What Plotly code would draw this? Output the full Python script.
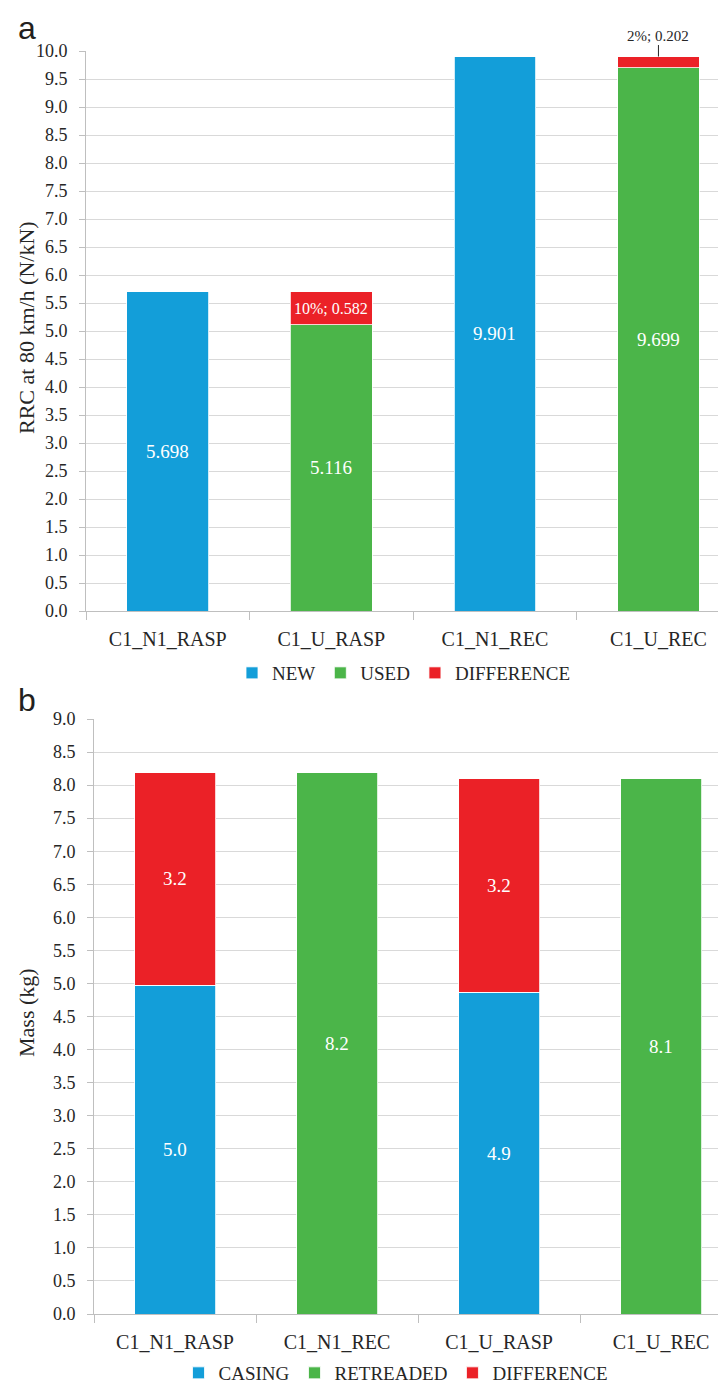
import plotly.graph_objects as go

W, H = 726, 1382

# ---- Panel a data ----
cats_a = ["C1_N1_RASP", "C1_U_RASP", "C1_N1_REC", "C1_U_REC"]
new_a = [5.698, None, 9.901, None]
used_a = [None, 5.116, None, 9.699]
diff_a = [None, 0.582, None, 0.202]
diff_pct_a = [None, "10%", None, "2%"]

# ---- Panel b data ----
cats_b = ["C1_N1_RASP", "C1_N1_REC", "C1_U_RASP", "C1_U_REC"]
casing_b = [4.97, None, 4.87, None]
retread_b = [None, 8.19, None, 8.10]
diff_b = [3.22, None, 3.23, None]

BLUE = "#139ED9"
GREEN = "#4BB549"
RED = "#EB2127"
SERIF = "Liberation Serif"
SANS = "Liberation Sans"
GRID = "#D9D9D9"
AX = "#BFBFBF"
TXT = "#262626"

fig = go.Figure()

def add_bar(x, y, name, color, xa, ya, legend):
    fig.add_trace(go.Bar(x=x, y=y, name=name, marker=dict(color=color, line=dict(width=0.8, color="white")),
                         xaxis=xa, yaxis=ya, legend=legend, showlegend=True))

add_bar(cats_a, new_a, "NEW", BLUE, "x", "y", "legend")
add_bar(cats_a, used_a, "USED", GREEN, "x", "y", "legend")
add_bar(cats_a, diff_a, "DIFFERENCE", RED, "x", "y", "legend")

add_bar(cats_b, casing_b, "CASING", BLUE, "x2", "y2", "legend2")
add_bar(cats_b, retread_b, "RETREADED", GREEN, "x2", "y2", "legend2")
add_bar(cats_b, diff_b, "DIFFERENCE", RED, "x2", "y2", "legend2")

ann = []
# panel a labels
for i, c in enumerate(cats_a):
    base = new_a[i] if new_a[i] is not None else used_a[i]
    ann.append(dict(x=c, y=base / 2, xref="x", yref="y", text=f"{base:.3f}", showarrow=False,
                    font=dict(family=SERIF, size=19, color="white")))
    if diff_a[i] is not None:
        label = f"{diff_pct_a[i]}; {diff_a[i]:.3f}"
        if diff_a[i] > 0.4:
            ann.append(dict(x=c, y=base + diff_a[i] / 2, xref="x", yref="y", text=label, showarrow=False,
                            font=dict(family=SERIF, size=16, color="white")))
        else:
            ann.append(dict(x=c, y=base + diff_a[i], xref="x", yref="y", text=label, showarrow=True,
                            arrowhead=0, arrowwidth=1, arrowcolor=TXT, ax=0, ay=-21,
                            font=dict(family=SERIF, size=15, color=TXT)))
# panel b labels
for i, c in enumerate(cats_b):
    base = casing_b[i] if casing_b[i] is not None else retread_b[i]
    ann.append(dict(x=c, y=base / 2, xref="x2", yref="y2", text=f"{base:.1f}", showarrow=False,
                    font=dict(family=SERIF, size=19, color="white")))
    if diff_b[i] is not None:
        ann.append(dict(x=c, y=base + diff_b[i] / 2, xref="x2", yref="y2", text=f"{diff_b[i]:.1f}",
                        showarrow=False, font=dict(family=SERIF, size=19, color="white")))

# panel letters
ann.append(dict(x=8 / W, y=1 - 20 / H, xref="paper", yref="paper", text="a", showarrow=False,
                xanchor="left", yanchor="middle", font=dict(family=SANS, size=32, color="#231F20")))
ann.append(dict(x=8 / W, y=1 - 692 / H, xref="paper", yref="paper", text="b", showarrow=False,
                xanchor="left", yanchor="middle", font=dict(family=SANS, size=32, color="#231F20")))
# axis titles
ann.append(dict(x=18 / W, y=1 - 320 / H, xref="paper", yref="paper", text="RRC at 80 km/h (N/kN)",
                textangle=-90, showarrow=False, xanchor="center", yanchor="middle",
                font=dict(family=SERIF, size=22, color=TXT)))
ann.append(dict(x=18 / W, y=1 - 1005 / H, xref="paper", yref="paper", text="Mass (kg)",
                textangle=-90, showarrow=False, xanchor="center", yanchor="middle",
                font=dict(family=SERIF, size=22, color=TXT)))

def xaxis_cfg(domain, rng, anchor):
    return dict(domain=domain, range=rng, anchor=anchor, type="category", tickson="boundaries",
                ticks="outside", ticklen=8, tickcolor=AX, showline=True, linecolor=AX, linewidth=1,
                showgrid=False, ticklabelstandoff=10,
                tickfont=dict(family=SERIF, size=20, color=TXT), fixedrange=True)

def yaxis_cfg(domain, rng, anchor):
    return dict(domain=domain, range=rng, anchor=anchor, dtick=0.5, tickformat=".1f", ticks="outside",
                ticklen=6, tickcolor=AX, showline=True, linecolor=AX, linewidth=1, showgrid=True,
                gridcolor=GRID, gridwidth=1, zeroline=False, ticklabelstandoff=8,
                tickfont=dict(family=SERIF, size=18, color=TXT), fixedrange=True)

fig.update_layout(
    width=W, height=H, margin=dict(l=0, r=0, t=0, b=0, autoexpand=False),
    paper_bgcolor="white", plot_bgcolor="white",
    barmode="stack", bargap=0.5,
    xaxis=xaxis_cfg([78 / W, 1.0], [-0.5, 3.462], "y"),
    yaxis=yaxis_cfg([1 - 603 / H, 1 - 43 / H], [0, 10], "x"),
    xaxis2=xaxis_cfg([86 / W, 1.0], [-0.5, 3.45], "y2"),
    yaxis2=yaxis_cfg([1 - 1306 / H, 1 - 711 / H], [0, 9], "x2"),
    legend=dict(orientation="h", x=396 / W, xanchor="center", y=1 - 665 / H, yanchor="middle",
                font=dict(family=SERIF, size=19, color=TXT), itemwidth=30, traceorder="normal"),
    legend2=dict(orientation="h", x=388 / W, xanchor="center", y=1 - 1365 / H, yanchor="middle",
                 font=dict(family=SERIF, size=19, color=TXT), itemwidth=30, traceorder="normal",
                 bgcolor="rgba(0,0,0,0)"),
    annotations=ann,
)
fig.write_html("out.html")
